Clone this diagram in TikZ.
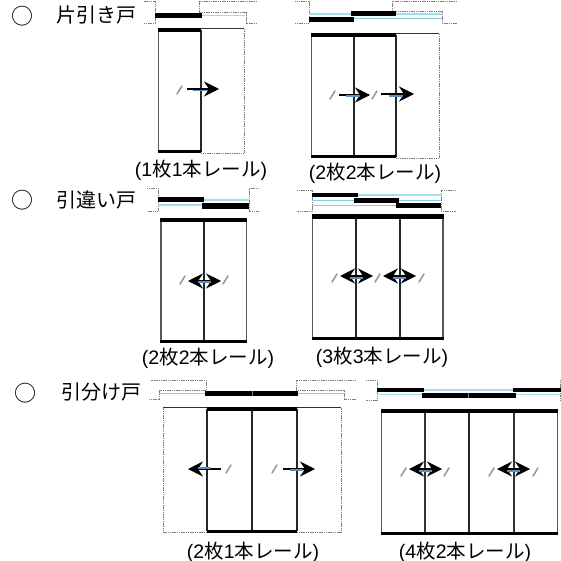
\documentclass[tikz,border=0pt]{standalone}
\usepackage{fontspec}
\setmainfont{Liberation Sans}
\newfontfamily\jpfont{Noto Sans CJK JP}
\usetikzlibrary{arrows.meta}
\newcommand{\jp}[1]{{\jpfont #1}}
\definecolor{railblue}{HTML}{7FCFE6}
\definecolor{railpale}{HTML}{A6DDEB}
\definecolor{tintblue}{HTML}{5F8FC0}
\tikzset{
  doorbar/.style={fill=black},
  rail/.style={color=railblue, line width=1pt},
  railwide/.style={color=railpale, line width=1.7pt},
  wall/.style={color=gray, line width=0.7pt, dash pattern=on 1.2pt off 0.6pt},
  post/.style={color=black!85, line width=1.6pt},
  postthin/.style={color=black!80, line width=1.1pt},
  sidepost/.style={color=black!65, line width=1.7pt},
  handle/.style={color=gray!80, line width=1.6pt, line cap=round},
  slide/.style={-{Stealth[length=15pt,width=15pt,inset=5pt]}, line width=1.3pt},
  slideboth/.style={{Stealth[length=15pt,width=15pt,inset=5pt]}-{Stealth[length=15pt,width=15pt,inset=5pt]}, line width=1.3pt},
  tint/.style={color=tintblue, line width=1.6pt},
  kind/.style={font=\fontsize{20}{22}\selectfont\jpfont, inner sep=0pt},
  bullet/.style={font=\fontsize{22}{24}\selectfont\jpfont, inner sep=0pt},
  caption/.style={font=\fontsize{19.5}{22}\selectfont, inner sep=0pt}
}
\begin{document}
\begin{tikzpicture}[x=1pt,y=-1pt]
    \useasboundingbox (0,0) rectangle (561,561);

    % headings
    \node[bullet] (mone) at (22,16) {○};
    \node[kind,anchor=west] (kone) at (56,15) {片引き戸};
    \node[bullet] (mtwo) at (22,200) {○};
    \node[kind,anchor=west] (ktwo) at (56,200) {引違い戸};
    \node[bullet] (mthree) at (25,393) {○};
    \node[kind,anchor=west] (kthree) at (61,392) {引分け戸};

    % captions
    \node[caption] (cone) at (201,170) {(1\jp{枚}1\jp{本レール})};
    \node[caption] (ctwo) at (375,173) {(2\jp{枚}2\jp{本レール})};
    \node[caption] (cthree) at (208,358) {(2\jp{枚}2\jp{本レール})};
    \node[caption] (cfour) at (382,357) {(3\jp{枚}3\jp{本レール})};
    \node[caption] (cfive) at (253,552) {(2\jp{枚}1\jp{本レール})};
    \node[caption] (csix) at (465,552) {(4\jp{枚}2\jp{本レール})};

    % 1 door, 1 rail
    \draw[wall] (144,23) -- (155,23) -- (155,1) -- (144,1);
    \draw[wall] (257,1) -- (199,1) -- (199,12) -- (246,12) -- (246,23) -- (257,23);
    \draw[railwide] (201,15.5) -- (245,15.5);
    \fill[doorbar] (155,13) rectangle (202,18);
    \draw[wall] (244,29) -- (244,153) -- (201,153);
    \draw[postthin] (201,28.5) -- (244,28.5);
    \draw[sidepost] (158.5,30) -- (158.5,152);
    \draw[post] (201,30) -- (201,152);
    \fill[doorbar] (158,28) rectangle (201,32);
    \fill[doorbar] (158,150) rectangle (201,153);

    % 2 doors, 2 rails
    \draw[wall] (295,23) -- (309,23) -- (309,1) -- (295,1);
    \draw[wall] (457,1) -- (392,1) -- (392,11) -- (442,11) -- (442,23) -- (457,23);
    \draw[railwide] (309,14) -- (351,14) (396,14) -- (442,14);
    \draw[rail] (354,19) -- (442,19);
    \fill[doorbar] (309,17) rectangle (354,22.5);
    \fill[doorbar] (351,11.5) rectangle (396,16);
    \draw[wall] (439,34) -- (439,158) -- (396,158);
    \draw[postthin] (396,33.5) -- (439,33.5);
    \draw[sidepost] (311.5,35) -- (311.5,157);
    \draw[post] (353.7,35) -- (353.7,157);
    \draw[post] (396,35) -- (396,157);
    \fill[doorbar] (311,33) rectangle (396,37);
    \fill[doorbar] (311,155) rectangle (396,158);

    % 2 doors, 2 rails, both ways
    \draw[wall] (147,188) -- (158,188) -- (158,211) -- (147,211);
    \draw[wall] (259,188) -- (249,188) -- (249,211) -- (259,211);
    \draw[railwide] (204,200) -- (249,200);
    \draw[railwide] (158,205) -- (202,205);
    \fill[doorbar] (158,197) rectangle (204,202);
    \fill[doorbar] (202,203) rectangle (249,209);
    \draw[sidepost] (161,220) -- (161,342);
    \draw[sidepost] (246.5,220) -- (246.5,342);
    \draw[post] (204,220) -- (204,342);
    \fill[doorbar] (160,218) rectangle (247,222);
    \fill[doorbar] (160,340) rectangle (247,343);

    % 3 doors, 3 rails
    \draw[wall] (297,190) -- (312,190) -- (312,211) -- (297,211);
    \draw[wall] (456,190) -- (441,190) -- (441,211) -- (456,211);
    \draw[railwide] (358,195) -- (441,195);
    \draw[rail] (312,200) -- (354,200) (399,200) -- (441,200);
    \draw[rail] (312,205) -- (396,205);
    \fill[doorbar] (312,193) rectangle (358,197.5);
    \fill[doorbar] (354,198) rectangle (399,202.5);
    \fill[doorbar] (396,203) rectangle (441,208);
    \draw[sidepost] (312.5,216) -- (312.5,338);
    \draw[sidepost] (443,216) -- (443,338);
    \draw[post] (356,216) -- (356,338);
    \draw[post] (400,216) -- (400,338);
    \fill[doorbar] (312,214) rectangle (444,218.5);
    \fill[doorbar] (312,337) rectangle (444,340);

    % 2 doors, 1 rail
    \draw[wall] (149,399.5) -- (159,399.5) -- (159,390) -- (206,390) -- (206,380) -- (151,380);
    \draw[wall] (356,380) -- (296,380) -- (296,390) -- (344,390) -- (344,399.5) -- (356,399.5);
    \draw[rail] (159,393) -- (205,393) (298,393) -- (344,393);
    \fill[doorbar] (205,391) rectangle (298,395.5);
    \draw[color=gray, line width=0.6pt] (252,391) -- (252,395.5);
    \draw[wall] (207,532) -- (163,532) -- (163,408) (297,532) -- (341,532) -- (341,408);
    \draw[postthin] (163,407.5) -- (341,407.5);
    \draw[post] (207,409) -- (207,531);
    \draw[post] (297,409) -- (297,531);
    \draw[post,line width=2.2pt] (252,409) -- (252,531);
    \fill[doorbar] (207,407) rectangle (297,411);
    \fill[doorbar] (207,530) rectangle (297,532.5);

    % 4 doors, 2 rails
    \draw[wall] (366,380) -- (377,380) -- (377,400) -- (366,400);
    \draw[wall] (560,380) -- (560,400);
    \draw[railwide] (424,390) -- (513,390);
    \draw[railwide] (377,394.5) -- (422,394.5) (516,394.5) -- (561,394.5);
    \fill[doorbar] (377,387.5) rectangle (424,392);
    \fill[doorbar] (513,387.5) rectangle (561,392);
    \fill[doorbar] (422,393) rectangle (516,397.5);
    \draw[color=gray, line width=0.6pt] (468,393) -- (468,397.5);
    \draw[sidepost] (381.5,411) -- (381.5,533);
    \draw[sidepost] (557.5,411) -- (557.5,533);
    \draw[postthin] (425,411) -- (425,533);
    \draw[post] (469,411) -- (469,533);
    \draw[postthin] (514,411) -- (514,533);
    \fill[doorbar] (381,409) rectangle (558,413);
    \fill[doorbar] (381,532) rectangle (558,535);

    % door handles
    \foreach \i/\j in {177/94,330/99,372/99,180/284,223/284,332/282,375/282,419/282,226/473,272/473,401/476,444/476,489/476,533/476}
      \draw[handle] (\i,\j) -- ++(5,-8);

    % sliding arrows
    \draw[slide] (187,89) -- (219,89);
    \draw[slide] (339,95) -- (370,95);
    \draw[slide] (381,94) -- (414,94);
    \draw[slide] (221,469) -- (188,469);
    \draw[slide] (283,469) -- (315,469);
    \foreach \i/\j in {188/281,340/276,383/276,409/469,497/469}
      \draw[slideboth] (\i,\j) -- ++(33,0);

    % blue underlay of the arrows
    \draw[tint] (193,90.5) -- (208,90.5);
    \draw[tint] (346,96) -- (360,96);
    \draw[tint] (389,96) -- (403,96);
    \draw[tint] (198,468) -- (211,468);
    \draw[tint] (290,470) -- (303,470);
    \foreach \i/\j in {198/282,350/278,393/278,419/471,507/471}
      \draw[tint] (\i,\j) -- ++(13,0);
  \end{tikzpicture}
\end{document}
